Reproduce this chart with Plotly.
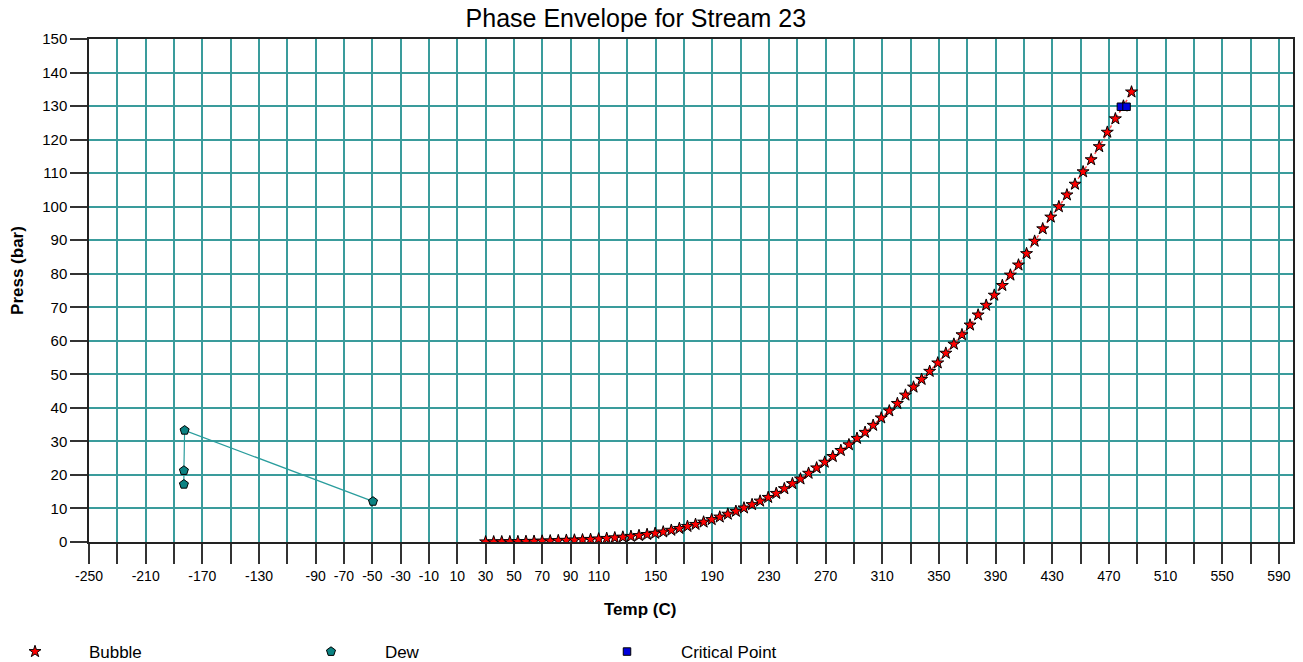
import plotly.graph_objects as go

# ---------------- data ----------------
bubble_T = [30.0, 35.7, 41.4, 47.1, 52.8, 58.5, 64.2, 69.9, 75.6, 81.3,
            87.0, 92.7, 98.4, 104.1, 109.8, 115.5, 121.2, 126.9, 132.6, 138.3,
            144.0, 149.7, 155.4, 161.1, 166.8, 172.5, 178.2, 183.9, 189.6, 195.3,
            201.0, 206.7, 212.4, 218.1, 223.8, 229.5, 235.2, 240.9, 246.6, 252.3,
            258.0, 263.7, 269.4, 275.1, 280.8, 286.5, 292.2, 297.9, 303.6, 309.3,
            315.0, 320.7, 326.4, 332.1, 337.8, 343.5, 349.2, 354.9, 360.6, 366.3,
            372.0, 377.7, 383.4, 389.1, 394.8, 400.5, 406.2, 411.9, 417.6, 423.3,
            429.0, 434.7, 440.4, 446.1, 451.8, 457.5, 463.2, 468.9, 474.6, 480.3,
            486.0]
bubble_P = [0.04, 0.05, 0.07, 0.09, 0.12, 0.16, 0.21, 0.27, 0.34, 0.42,
            0.52, 0.58, 0.65, 0.78, 0.92, 1.08, 1.26, 1.46, 1.68, 1.93,
            2.25, 2.6, 3.0, 3.5, 4.05, 4.65, 5.25, 5.95, 6.7, 7.45,
            8.3, 9.15, 10.15, 11.15, 12.2, 13.3, 14.5, 15.9, 17.4, 18.8,
            20.5, 22.1, 23.8, 25.5, 27.3, 29.0, 30.9, 32.7, 34.8, 37.0,
            39.1, 41.3, 43.8, 46.2, 48.5, 50.9, 53.4, 56.3, 59.0, 61.8,
            64.7, 67.7, 70.6, 73.6, 76.5, 79.6, 82.6, 86.0, 89.7, 93.4,
            96.9, 100.0, 103.5, 106.7, 110.4, 114.0, 117.9, 122.2, 126.2, 130.0,
            134.2]

dew_T = [-49.5, -182.5, -183.0, -183.0]
dew_P = [12.1, 33.3, 21.3, 17.2]

crit_T = [478.5, 482.5]
crit_P = [129.8, 129.8]

x_tickvals = list(range(-250, 600, 20))
x_labeled = [-250, -210, -170, -130, -90, -70, -50, -30, -10, 10, 30, 50, 70, 90,
             110, 150, 190, 230, 270, 310, 350, 390, 430, 470, 510, 550, 590]
x_ticktext = [str(v) if v in x_labeled else "" for v in x_tickvals]
y_tickvals = list(range(0, 151, 10))

title_text = "Phase Envelope for Stream 23"
x_title = "Temp (C)"
y_title = "Press (bar)"
series_names = ["Bubble", "Dew", "Critical Point"]

# ---------------- figure ----------------
FONT = "Liberation Sans, Arial, sans-serif"
GRID = "#3a9c9c"
PAD = "\u00a0" * 4  # gap between legend symbol and label, as in the reference

fig = go.Figure()

# connecting lines
fig.add_trace(go.Scatter(x=bubble_T, y=bubble_P, mode="lines",
                         line=dict(color="#ff5050", width=1.5, dash="dot"),
                         showlegend=False, hoverinfo="skip"))
fig.add_trace(go.Scatter(x=dew_T, y=dew_P, mode="lines",
                         line=dict(color="#2a9d9d", width=1.2),
                         showlegend=False, hoverinfo="skip"))
# markers
fig.add_trace(go.Scatter(x=bubble_T, y=bubble_P, mode="markers", name=PAD + series_names[0],
                         marker=dict(symbol="star", size=9, color="#ff0000",
                                     line=dict(color="#000000", width=1))))
fig.add_trace(go.Scatter(x=dew_T, y=dew_P, mode="markers", name=PAD + series_names[1],
                         marker=dict(symbol="pentagon", size=9.5, color="#0b8282",
                                     line=dict(color="#000000", width=1))))
fig.add_trace(go.Scatter(x=crit_T, y=crit_P, mode="markers", name=PAD + series_names[2],
                         marker=dict(symbol="square", size=7.5, color="#0000dd",
                                     line=dict(color="#000000", width=1))))

fig.update_layout(
    width=1303, height=662,
    margin=dict(l=89, r=10, t=39, b=120, autoexpand=False),
    paper_bgcolor="white", plot_bgcolor="white",
    font=dict(family=FONT, color="black"),
    title=dict(text=title_text, xref="container", x=0.488, xanchor="center",
               yref="container", y=0.973, yanchor="middle",
               font=dict(size=25, family=FONT, color="black")),
    showlegend=True,
    legend=dict(orientation="h", xref="container", yref="container",
                x=0.0, xanchor="left", y=0.0151, yanchor="middle",
                itemwidth=60, entrywidth=221, entrywidthmode="pixels",
                font=dict(size=17, family=FONT, color="black"),
                bgcolor="rgba(0,0,0,0)"),
    annotations=[
        dict(text="<b>" + x_title + "</b>", xref="paper", yref="paper",
             x=0.4576, y=-0.135, xanchor="center", yanchor="middle",
             showarrow=False, font=dict(size=17, family=FONT, color="black")),
        dict(text="<b>" + y_title + "</b>", xref="paper", yref="paper",
             x=-0.059, y=0.5408, xanchor="center", yanchor="middle", textangle=-90,
             showarrow=False, font=dict(size=17, family=FONT, color="black")),
    ],
)

fig.update_xaxes(range=[-250, 600], tickmode="array", tickvals=x_tickvals,
                 ticktext=x_ticktext, ticks="outside", ticklen=20, tickwidth=1.5,
                 tickcolor="#333333", showgrid=True, gridcolor=GRID, gridwidth=1.5,
                 zeroline=False, showline=True, linecolor="#222222", linewidth=1.5,
                 mirror=True, tickfont=dict(size=14, family=FONT, color="black"),
                 automargin=False, fixedrange=True)
fig.update_yaxes(range=[0, 150], tickmode="array", tickvals=y_tickvals,
                 ticks="outside", ticklen=17, tickwidth=1.5, tickcolor="#333333",
                 showgrid=True, gridcolor=GRID, gridwidth=1.5,
                 zeroline=False, showline=True, linecolor="#222222", linewidth=1.5,
                 mirror=True, tickfont=dict(size=15, family=FONT, color="black"),
                 automargin=False, fixedrange=True)

fig.write_html("out.html", config={"displayModeBar": False},
               post_script="document.body.style.margin='0';")
